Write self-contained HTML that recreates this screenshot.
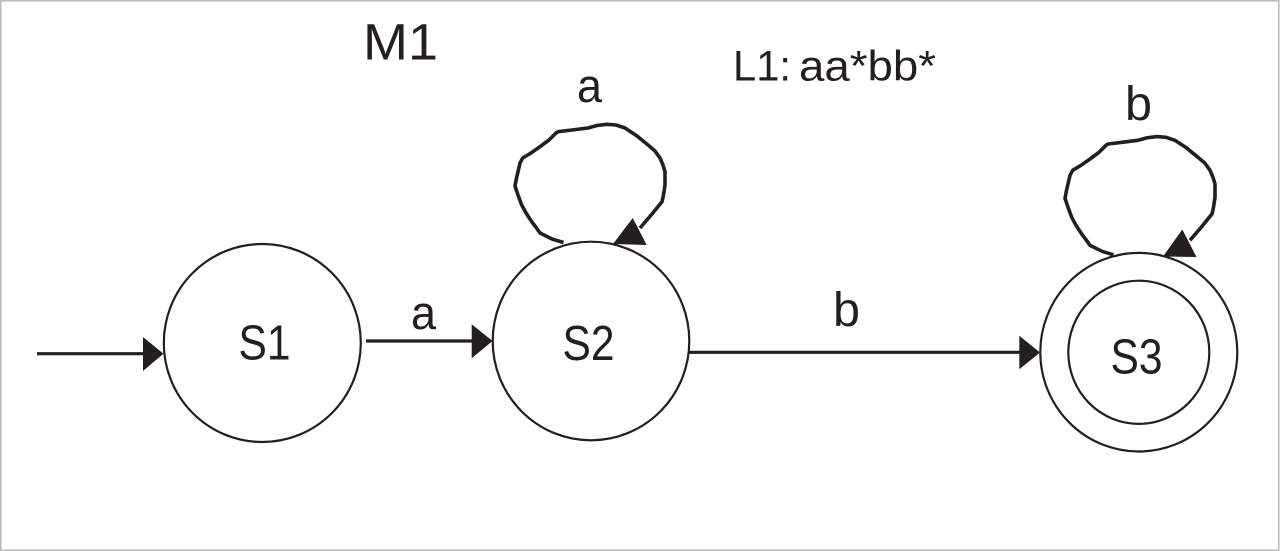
<!DOCTYPE html>
<html lang="en">
<head>
<meta charset="utf-8">
<title>M1 state diagram</title>
<style>
html,body{margin:0;padding:0;background:#fff;}
svg{display:block;}
text{font-family:"Liberation Sans",sans-serif;fill:#231f20;}
</style>
</head>
<body>
<svg width="1280" height="551" viewBox="0 0 1280 551" xmlns="http://www.w3.org/2000/svg">
<rect x="0" y="0" width="1280" height="551" fill="#fff"/>
<rect x="0.75" y="0.75" width="1278" height="549.5" fill="none" stroke="#b8b8b8" stroke-width="1.5"/>

<g fill="none" stroke="#231f20" stroke-width="2.2">
<ellipse cx="262.3" cy="343" rx="98.5" ry="99"/>
<ellipse cx="591" cy="341" rx="98.3" ry="99.3"/>
<ellipse cx="1138.8" cy="352.2" rx="98.5" ry="99.3"/>
<ellipse cx="1138.8" cy="352.3" rx="70.5" ry="71.6"/>
</g>

<g fill="none" stroke="#231f20" stroke-width="3.2">
<line x1="37" y1="353.7" x2="146" y2="353.7"/>
<line x1="366" y1="341" x2="474" y2="341"/>
<line x1="689" y1="352.3" x2="1022" y2="352.3"/>
</g>
<g fill="#231f20">
<polygon points="143,337 143,371 163.5,353.7"/>
<polygon points="471.7,324.3 471.7,358.3 492.5,341"/>
<polygon points="1019.3,335.7 1019.3,369.3 1040,352.5"/>
</g>

<g id="loops" fill="none" stroke="#231f20" stroke-width="3.6" stroke-linejoin="round">
<polyline points="563.5,242.5 552,239 540,233 535,226 531.7,221.7 526,213 521.7,205 518,195 515,186 516.5,178 518,171.7 520,163 522.7,158 531,153 540,146.7 549,140 556,133 558,131.7 572,130 588,128 597,125.5 606.7,124.3 616,125 625,128 637,136 648,145 655,151 660,158 663,165 665,171.7 665,185 663.5,195 662,201.7 652,214 640,228"/>
<polyline transform="translate(550,12.3)" points="563.5,242.5 552,239 540,233 535,226 531.7,221.7 526,213 521.7,205 518,195 515,186 516.5,178 518,171.7 520,163 522.7,158 531,153 540,146.7 549,140 556,133 558,131.7 572,130 588,128 597,125.5 606.7,124.3 616,125 625,128 637,136 648,145 655,151 660,158 663,165 665,171.7 665,185 663.5,195 662,201.7 652,214 640,228"/>
</g>
<g fill="#231f20">
<polygon points="632.7,218 646.7,245 613,244"/>
<polygon points="1182.3,229.5 1196.5,257 1163,256.5"/>
</g>

<text x="363" y="59.5" font-size="51" textLength="75" lengthAdjust="spacingAndGlyphs">M1</text>
<text x="733" y="80.5" font-size="43" textLength="58" lengthAdjust="spacingAndGlyphs">L1:</text>
<text x="799" y="80.5" font-size="43" textLength="137" lengthAdjust="spacingAndGlyphs">aa*bb*</text>
<text x="577" y="102" font-size="47" textLength="25" lengthAdjust="spacingAndGlyphs">a</text>
<text x="1125" y="120" font-size="48" textLength="27" lengthAdjust="spacingAndGlyphs">b</text>
<text x="411" y="329" font-size="47" textLength="25" lengthAdjust="spacingAndGlyphs">a</text>
<text x="833" y="326" font-size="48" textLength="27" lengthAdjust="spacingAndGlyphs">b</text>
<text x="238.5" y="359.5" font-size="49" textLength="52" lengthAdjust="spacingAndGlyphs">S1</text>
<text x="562.5" y="360" font-size="49" textLength="52" lengthAdjust="spacingAndGlyphs">S2</text>
<text x="1110.5" y="373.3" font-size="49" textLength="52" lengthAdjust="spacingAndGlyphs">S3</text>
</svg>
</body>
</html>
